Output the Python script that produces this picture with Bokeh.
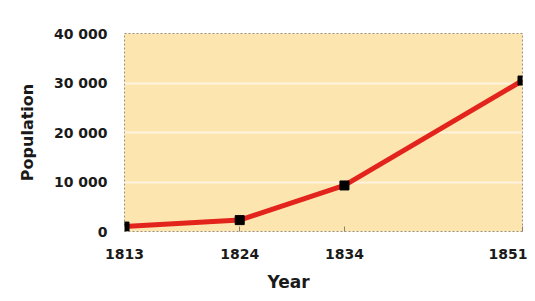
from bokeh.plotting import figure
from bokeh.embed import file_html
from bokeh.resources import INLINE
from bokeh.models import FixedTicker, Title

years = [1813, 1824, 1834, 1851]
population = [1000, 2300, 9300, 30500]
y_ticks = [0, 10000, 20000, 30000, 40000]
y_tick_labels = ["0", "10 000", "20 000", "30 000", "40 000"]

FONT = "DejaVu Sans"

p = figure(width=527, height=299, output_backend="svg", toolbar_location=None,
           x_range=(1813, 1851), y_range=(0, 40000),
           min_border_left=124, min_border_right=5, min_border_top=33, min_border_bottom=68)

p.background_fill_color = "#fde5b0"
p.border_fill_color = "white"
p.outline_line_color = "#9a9080"
p.outline_line_dash = "2 2"
p.outline_line_width = 1

p.xgrid.grid_line_color = None
p.ygrid.grid_line_color = "#fff2de"
p.ygrid.grid_line_width = 2
p.ygrid.ticker = FixedTicker(ticks=y_ticks[1:])

p.line(years, population, line_color="#e3241c", line_width=5)
p.scatter(years, population, marker="square", size=9, color="black")

p.yaxis.ticker = FixedTicker(ticks=y_ticks)
p.yaxis.major_label_overrides = {t: l for t, l in zip(y_ticks, y_tick_labels)}
p.xaxis.ticker = FixedTicker(ticks=years)
p.xaxis.major_label_overrides = {y: str(y) for y in years}

for ax in (p.xaxis, p.yaxis):
    ax.axis_line_color = None
    ax.minor_tick_line_color = None
    ax.major_label_text_font = FONT
    ax.major_label_text_font_style = "bold"
    ax.major_label_text_font_size = "14px"
    ax.major_label_text_color = "#1a1a1a"

p.yaxis.major_tick_line_color = None
p.xaxis.major_tick_line_color = "#8a8070"
p.xaxis.major_tick_in = 5
p.xaxis.major_tick_out = 0

p.xaxis.major_label_standoff = 17
p.yaxis.major_label_standoff = 11

p.yaxis.axis_label = "Population"
p.yaxis.axis_label_text_font = FONT
p.yaxis.axis_label_text_font_style = "bold"
p.yaxis.axis_label_text_font_size = "16px"
p.yaxis.axis_label_text_color = "#1a1a1a"
p.yaxis.axis_label_standoff = 14

year_title = Title(text="Year", align="left", offset=143, text_font=FONT,
                   text_font_style="bold", text_font_size="17px", text_color="#1a1a1a",
                   standoff=16)
p.add_layout(year_title, "below")

open("out.html", "w").write(file_html(p, INLINE))
